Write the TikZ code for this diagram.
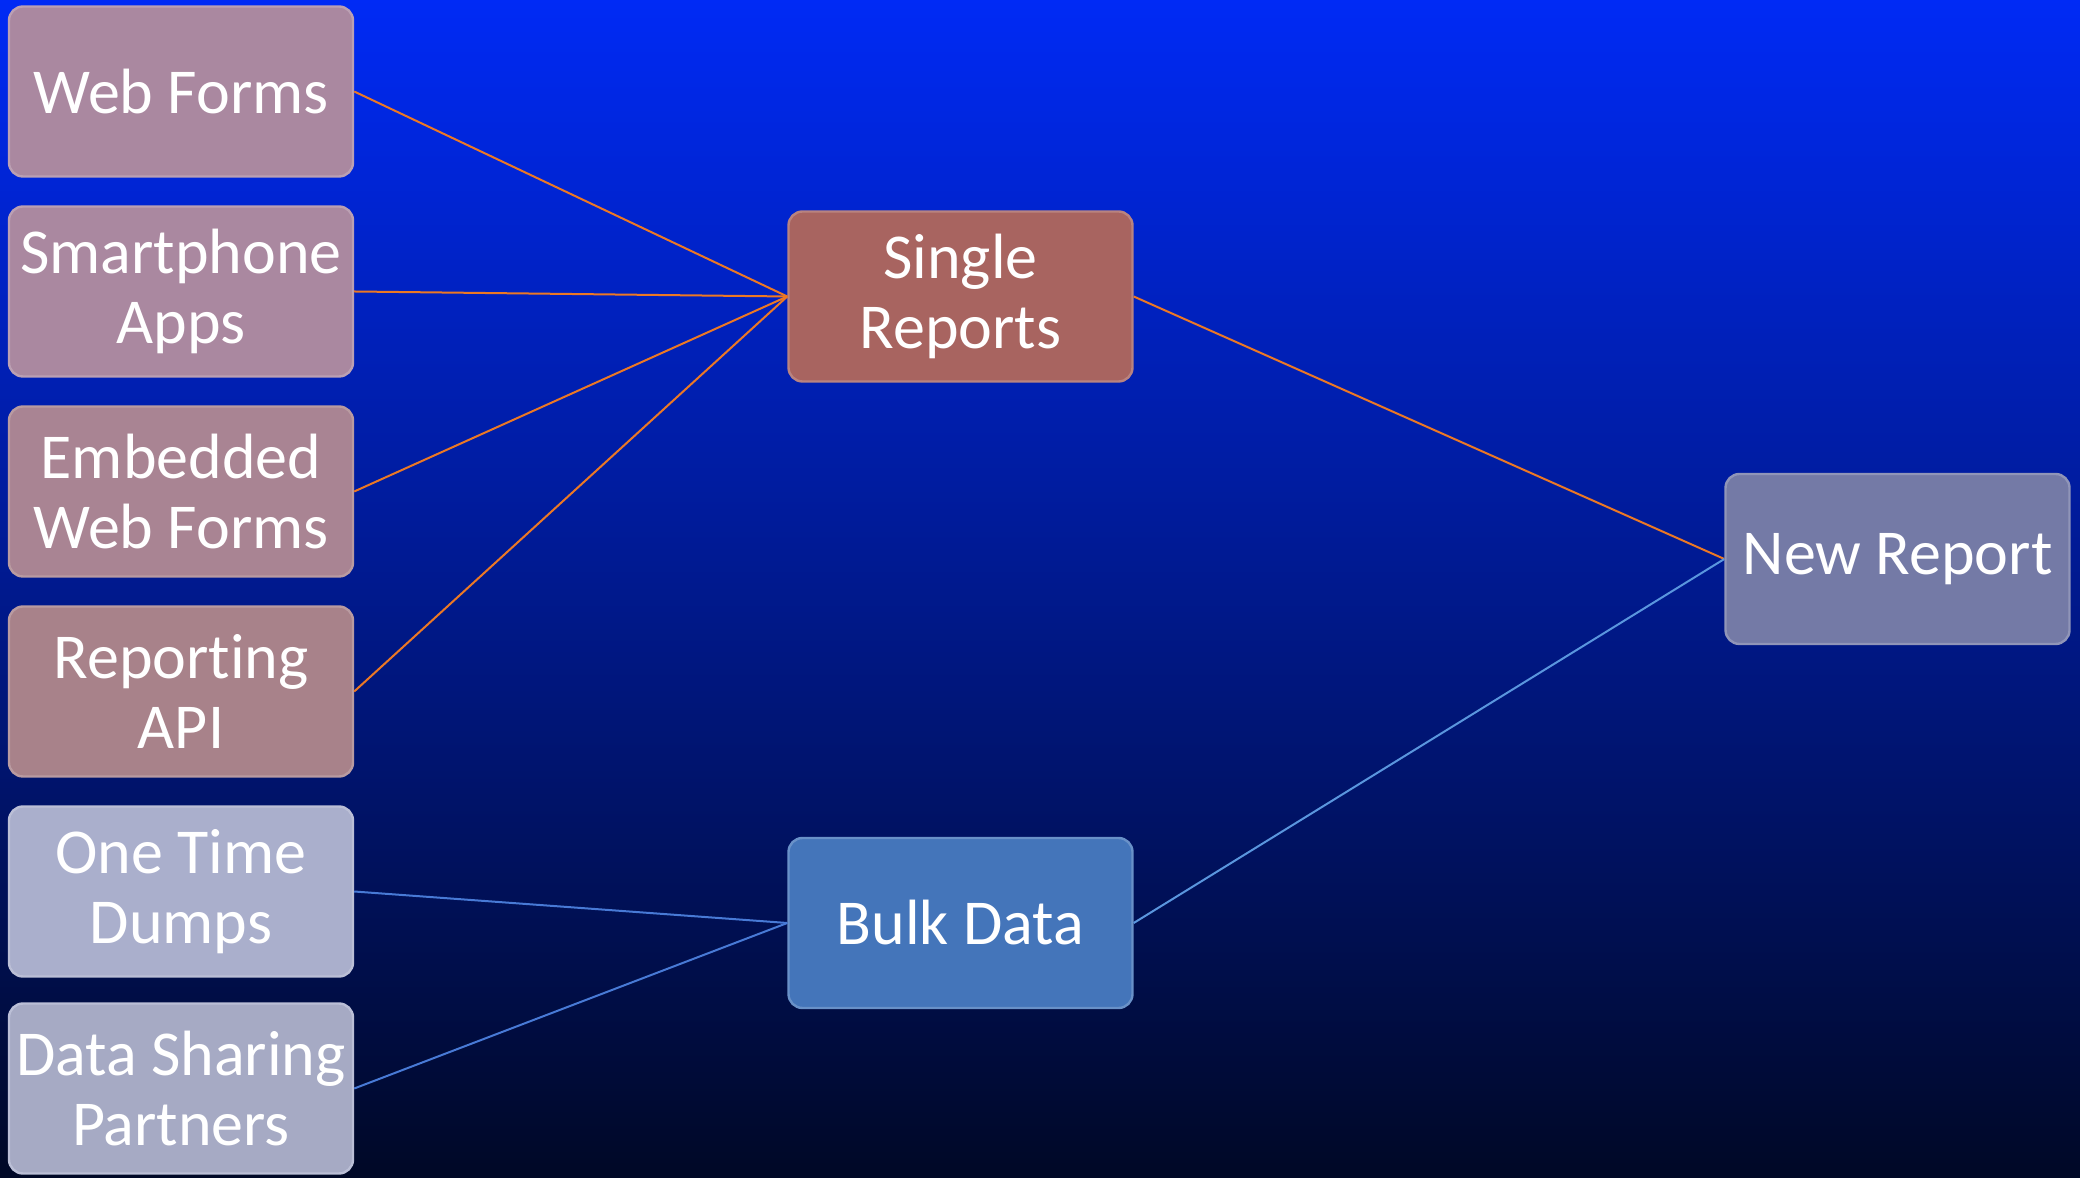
\documentclass[tikz,border=0pt]{standalone}
\usepackage{fontspec}
\setmainfont{Carlito}[RawFeature={-liga;-clig;-calt;-dlig}]
\usepackage{tikz}
\usetikzlibrary{positioning}
\def\nolig{\kern0pt{}}
\definecolor{bgtop}{RGB}{0,42,245}
\definecolor{bgmid}{RGB}{0,28,155}
\definecolor{bgbot}{RGB}{0,8,38}
\definecolor{mauve}{RGB}{170,136,160}
\definecolor{rose}{RGB}{168,130,138}
\definecolor{brick}{RGB}{168,100,96}
\definecolor{slate}{RGB}{116,122,166}
\definecolor{steel}{RGB}{68,117,186}
\definecolor{lilac}{RGB}{170,175,204}
\definecolor{feed}{RGB}{236,120,36}
\definecolor{bulk}{RGB}{72,122,214}
\definecolor{bulklt}{RGB}{90,150,222}

\begin{document}
\begin{tikzpicture}[x=0.5pt,y=0.5pt,
    box/.style={rectangle,rounded corners=7pt,minimum width=172pt,minimum height=85pt,
        inner sep=0pt,align=center,text=white,line width=1.2pt,
        font=\fontsize{32}{35}\selectfont},
    feedline/.style={feed,line width=1pt},
    bulkline/.style={bulk,line width=1pt}]

    \shade[top color=bgtop,middle color=bgmid,bottom color=bgbot] (0,0) rectangle (2080,1177);
    \useasboundingbox (0,0) rectangle (2080,1177);

    \begin{scope}[node distance=100pt]
        \draw (181,1085.5) node[box,fill=mauve,draw=mauve!80!white] (WF) {Web Forms};
        \node[box,fill=mauve,draw=mauve!80!white,below of=WF] (SA) {Smartphone\\Apps};
        \node[box,fill=rose!60!mauve,draw=rose!80!white,below of=SA] (EWF) {Embedded\\Web Forms};
        \node[box,fill=rose,draw=rose!80!white,below of=EWF] (RA) {Report\nolig ing\\API};
        \node[box,fill=lilac,draw=lilac!80!white,below of=RA] (OTD) {One T\nolig ime\\Dumps};
        \node[box,fill=lilac!90!gray,draw=lilac!80!white,below of=OTD,yshift=1.5pt] (DSP) {Data Sharing\\Partners};
    \end{scope}

    \node[box,fill=brick,draw=brick!80!white] (SR) at (960.5,880.5) {Single\\Reports};
    \node[box,fill=steel,draw=steel!80!white] (BD) at (960.5,254) {Bulk Data};
    \node[box,fill=slate,draw=slate!80!white] (NR) at (1897.5,618) {New Report};

    \foreach \src in {WF,SA,EWF,RA}
        \draw[feedline] (\src.east) -- (SR.west);
    \foreach \src in {OTD,DSP}
        \draw[bulkline] (\src.east) -- (BD.west);
    \draw[feedline] (SR.east) -- (NR.west);
    \draw[bulkline,bulklt] (BD.east) -- (NR.west);

\end{tikzpicture}
\end{document}
